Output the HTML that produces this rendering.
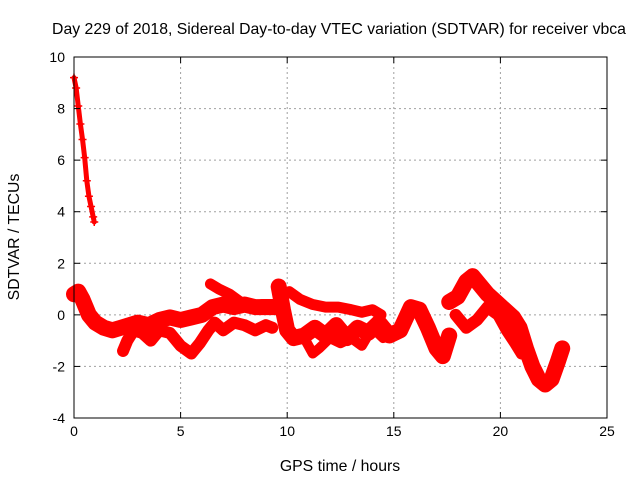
<!DOCTYPE html>
<html><head><meta charset="utf-8"><style>
body{margin:0;background:#fff}
svg text{font-family:"Liberation Sans",sans-serif;font-size:14px;fill:#000}
svg text.big{font-size:15.8px}
</style></head><body>
<svg id="chart" width="640" height="480">
<rect width="640" height="480" fill="#fff"/>
<text class="big" x="339" y="34" text-anchor="middle">Day 229 of 2018, Sidereal Day-to-day VTEC variation (SDTVAR) for receiver vbca</text>
<text class="big" x="340" y="471" text-anchor="middle">GPS time / hours</text>
<text class="big" transform="translate(19,237) rotate(-90)" text-anchor="middle">SDTVAR / TECUs</text>
<g id="grid"></g><g id="marks"></g><g id="axes"></g>
</svg>
<script>
const xTicks=[0,5,10,15,20,25];
const yTicks=[-4,-2,0,2,4,6,8,10];
const s1h=[0,0.1,0.2,0.3,0.4,0.5,0.6,0.7,0.8,0.9,0.95];
const s1v=[9.2,8.8,8.1,7.4,6.8,6.1,5.2,4.6,4.2,3.8,3.6];
const s2h=[0,0.2,0.4,0.7,1.0,1.4,1.8,2.2,2.6,3.0,3.5,4.0,4.5,5.0,5.5,6.0,6.5,7.0,7.5,8.0,8.5,9.0,9.4];
const s2v=[0.8,0.9,0.6,0.0,-0.3,-0.5,-0.6,-0.5,-0.4,-0.3,-0.4,-0.2,-0.1,-0.2,-0.1,0,0.3,0.4,0.3,0.4,0.3,0.3,0.3];
const s3h=[2.3,2.5,2.8,3.2,3.6,4.0,4.5,5.0,5.5,5.9,6.3,6.6,7.0,7.5,8.0,8.5,9.0,9.3];
const s3v=[-1.4,-1.0,-0.6,-0.7,-1.0,-0.6,-0.7,-1.2,-1.5,-1.1,-0.6,-0.3,-0.6,-0.3,-0.4,-0.6,-0.4,-0.5];
const s4h=[6.4,6.8,7.3,7.8,8.3,8.8,9.3];
const s4v=[1.2,1.0,0.8,0.5,0.3,0.4,0.4];
const s5h=[9.6,9.8,10.0,10.3,10.8,11.3,11.8,12.3,12.8,13.3,13.8,14.3,14.8,15.3,15.8,16.2,16.6,17.0,17.3,17.6];
const s5v=[1.1,0.2,-0.6,-0.9,-0.8,-0.5,-0.8,-0.4,-0.9,-0.5,-0.7,-0.3,-0.8,-0.6,0.3,0.2,-0.5,-1.3,-1.6,-0.8];
const s6h=[10.1,10.6,11.2,11.8,12.4,13.0,13.5,14.0,14.4];
const s6v=[0.9,0.6,0.4,0.3,0.3,0.2,0.1,0.2,0.0];
const s7h=[10.8,11.2,11.5,12.0,12.5,13.0,13.5,14.0,14.5,15.0];
const s7v=[-0.9,-1.5,-1.3,-0.9,-1.1,-0.9,-1.2,-0.5,-0.9,-0.8];
const s8h=[17.6,18.0,18.4,18.7,19.0,19.4,19.8,20.2,20.6,20.9,21.2,21.5,21.8,22.1,22.4,22.7,22.9];
const s8v=[0.5,0.7,1.3,1.5,1.2,0.8,0.5,0.2,-0.1,-0.5,-1.3,-2.0,-2.5,-2.7,-2.5,-1.8,-1.3];
const s9h=[17.9,18.4,18.9,19.4,19.9,20.3,20.7,21.0];
const s9v=[0.0,-0.5,-0.2,0.3,0.0,-0.6,-1.1,-1.5];
const series=[[s1h,s1v,5],[s2h,s2v,16],[s3h,s3v,12],[s4h,s4v,11],[s5h,s5v,16],[s6h,s6v,11],[s7h,s7v,10],[s8h,s8v,16],[s9h,s9v,12]];
const L=74,R=607,T=57,B=418,X0=0,X1=25,Y0=-4,Y1=10;
const NS="http://www.w3.org/2000/svg";
function xs(h){return L+(h-X0)/(X1-X0)*(R-L);}
function ys(v){return B-(v-Y0)/(Y1-Y0)*(B-T);}
function mk(t,a){const e=document.createElementNS(NS,t);for(const k in a)e.setAttribute(k,a[k]);return e;}
const grid=document.getElementById('grid'),axes=document.getElementById('axes'),marks=document.getElementById('marks');
xTicks.forEach(t=>{const x=xs(t);
 if(t>X0&&t<X1){const g=mk('line',{x1:x,x2:x,y1:T,y2:B,stroke:'#a0a0a0','stroke-dasharray':'2,3'});
 
 grid.appendChild(g);}
 axes.appendChild(mk('line',{x1:x,x2:x,y1:B,y2:B-6,stroke:'#000'}));
 axes.appendChild(mk('line',{x1:x,x2:x,y1:T,y2:T+6,stroke:'#000'}));
 const tx=mk('text',{x:x,y:B+18,'text-anchor':'middle'});tx.textContent=t;
 
 axes.appendChild(tx);});
yTicks.forEach(t=>{const y=ys(t);
 if(t>Y0&&t<Y1){const g=mk('line',{x1:L,x2:R,y1:y,y2:y,stroke:'#a0a0a0','stroke-dasharray':'2,3'});
 
 grid.appendChild(g);}
 axes.appendChild(mk('line',{x1:L,x2:L+6,y1:y,y2:y,stroke:'#000'}));
 axes.appendChild(mk('line',{x1:R,x2:R-6,y1:y,y2:y,stroke:'#000'}));
 const tx=mk('text',{x:L-9,y:y+5,'text-anchor':'end'});tx.textContent=t;
 
 axes.appendChild(tx);});
const box=mk('rect',{x:L,y:T,width:R-L,height:B-T,fill:'none',stroke:'#000'});

axes.appendChild(box);
series.forEach(([h,v,w],i)=>{
 const pts=h.map((hh,j)=>xs(hh)+','+ys(v[j])).join(' ');
 const pl=mk('polyline',{points:pts,fill:'none',stroke:'#ff0000','stroke-width':w,'stroke-linejoin':'round','stroke-linecap':'round'});
 
 marks.appendChild(pl);
 h.forEach((hh,j)=>{const x=xs(hh),y=ys(v[j]);
  const p=mk('path',{d:`M${x-4},${y}h8M${x},${y-4}v8`,stroke:'#ff0000','stroke-width':1.5});
  
  marks.appendChild(p);});
});
</script>
</body></html>
